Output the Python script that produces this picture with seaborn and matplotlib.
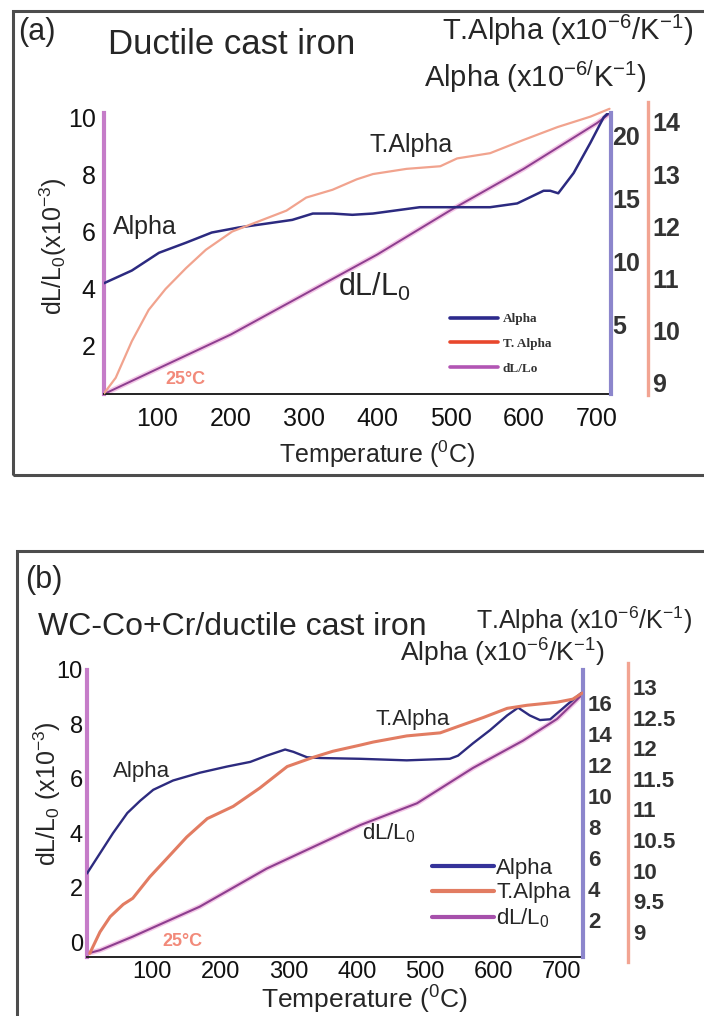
import matplotlib
matplotlib.use('Agg')
import matplotlib.pyplot as plt
import matplotlib.patheffects as pe
from matplotlib.lines import Line2D
from matplotlib.patches import Rectangle
import seaborn as sns

# ---------------- panel (a): ductile cast iron ----------------
a_alpha_temp = [27, 65, 102, 139, 174, 211, 248, 284, 312, 339, 366, 394, 458, 503,
                554, 591, 627, 636, 647, 668, 691, 709, 718]
a_alpha = [8.3, 9.3, 10.7, 11.5, 12.3, 12.7, 13.0, 13.3, 13.8, 13.8, 13.7, 13.8, 14.3, 14.3,
           14.3, 14.6, 15.6, 15.6, 15.4, 17.0, 19.4, 21.4, 21.9]
a_talpha_temp = [27, 43, 65, 88, 111, 139, 166, 202, 239, 276, 303, 339, 372, 394, 440,
                 486, 509, 554, 599, 646, 691, 717]
a_talpha = [8.8, 9.1, 9.8, 10.4, 10.8, 11.2, 11.55, 11.9, 12.1, 12.3, 12.55, 12.7, 12.9, 13.0,
            13.1, 13.15, 13.3, 13.4, 13.65, 13.9, 14.1, 14.25]
a_dl_temp = [27, 100, 200, 300, 400, 500, 600, 700, 718]
a_dl = [0.32, 1.2, 2.4, 3.8, 5.2, 6.75, 8.2, 9.8, 10.15]

a_left_ticks = [2, 4, 6, 8, 10]
a_alpha_ticks = [5, 10, 15, 20]
a_talpha_ticks = [9, 10, 11, 12, 13, 14]

# ---------------- panel (b): WC-Co+Cr/ductile cast iron ----------------
b_alpha_temp = [5, 24, 43, 64, 83, 102, 131, 170, 210, 244, 268, 295, 307, 327, 346, 405,
                473, 536, 548, 570, 595, 620, 636, 653, 668, 683, 708, 730]
b_alpha = [5.0, 6.3, 7.6, 8.9, 9.7, 10.4, 11.0, 11.5, 11.9, 12.2, 12.6, 13.0, 12.85, 12.5,
           12.45, 12.4, 12.3, 12.4, 12.6, 13.4, 14.25, 15.2, 15.7, 15.2, 14.9, 14.95, 15.9, 16.7]
b_talpha_temp = [9, 24, 39, 58, 72, 97, 122, 151, 181, 219, 258, 298, 336, 365, 405, 424,
                 473, 522, 547, 585, 620, 649, 693, 716, 730]
b_talpha = [8.65, 9.0, 9.25, 9.45, 9.55, 9.9, 10.2, 10.55, 10.85, 11.05, 11.35, 11.7, 11.85,
            11.95, 12.05, 12.1, 12.2, 12.25, 12.35, 12.5, 12.65, 12.7, 12.75, 12.8, 12.9]
b_dl_temp = [9, 24, 72, 170, 268, 405, 488, 570, 643, 693, 730]
b_dl = [-0.4, -0.3, 0.2, 1.3, 2.7, 4.3, 5.1, 6.4, 7.4, 8.2, 9.1]

b_left_ticks = [0, 2, 4, 6, 8, 10]
b_alpha_ticks = [2, 4, 6, 8, 10, 12, 14, 16]
b_talpha_ticks = [9, 9.5, 10, 10.5, 11, 11.5, 12, 12.5, 13]
b_talpha_labels = ['9', '9.5', '10', '10.5', '11', '11.5', '12', '12.5', '13']

temp_ticks = [100, 200, 300, 400, 500, 600, 700]

sns.set_style('white')
plt.rcParams['font.family'] = ['Liberation Sans', 'DejaVu Sans']
plt.rcParams['mathtext.default'] = 'regular'

W, H = 704, 1016
PT = 0.72  # pixels -> points at 100 dpi
fig = plt.figure(figsize=(W / 100, H / 100), dpi=100)


def box(l, t, r, b):
    return [l / W, 1 - b / H, (r - l) / W, (b - t) / H]


def fx(px):
    return px / W


def fy(py):
    return 1 - py / H


def put(x, y, s, size, ha='left', **kw):
    fig.text(fx(x), fy(y), s, fontsize=size, ha=ha, va='center', **kw)


def make_axes(l, t, r, b, t_top, t_bot, gap, xlim, ylims, fs_left, pads):
    ax = fig.add_axes(box(l, t, r, b))
    ax_a = ax.twinx()
    ax_t = fig.add_axes(box(l, t_top, r, t_bot), sharex=ax)
    for a in (ax, ax_a, ax_t):
        a.set_facecolor('none')
        for s in a.spines.values():
            s.set_visible(False)
    ax.spines['left'].set_visible(True)
    ax.spines['left'].set_color('#c57cc8')
    ax.spines['left'].set_linewidth(3.0)
    ax.spines['bottom'].set_visible(True)
    ax.spines['bottom'].set_color('#222222')
    ax.spines['bottom'].set_linewidth(1.4)
    ax_a.spines['right'].set_visible(True)
    ax_a.spines['right'].set_color('#8c86cc')
    ax_a.spines['right'].set_linewidth(3.0)
    ax_t.spines['right'].set_visible(True)
    ax_t.spines['right'].set_color('#f2a492')
    ax_t.spines['right'].set_linewidth(2.4)
    ax_t.spines['right'].set_position(('outward', gap * PT))
    ax_t.yaxis.tick_right()
    ax_t.tick_params(bottom=False, labelbottom=False)
    ax.set_xlim(*xlim)
    ax.set_ylim(*ylims[0])
    ax_a.set_ylim(*ylims[1])
    ax_t.set_ylim(*ylims[2])
    ax.tick_params(axis='x', length=0, pad=pads[0], labelsize=fs_left, labelcolor='#111111')
    ax.tick_params(axis='y', length=0, pad=pads[1], labelsize=fs_left, labelcolor='#111111')
    ax_a.tick_params(axis='y', length=0, pad=pads[2])
    ax_t.tick_params(axis='y', length=0, pad=pads[3])
    return ax, ax_a, ax_t


halo = [pe.Stroke(linewidth=3.6, foreground='#f3c6e6'), pe.Normal()]

# ---------------- draw panel (a) ----------------
ax, ax_a, ax_t = make_axes(104, 113, 611, 394, 102, 395, 37, (27, 719),
                           [(0.32, 10.15), (-0.45, 21.74), (8.77, 14.38)],
                           18, (9, 6, 1, 3))
ax.set_xticks(temp_ticks)
ax.set_yticks(a_left_ticks)
ax_a.set_yticks(a_alpha_ticks, labels=[str(v) for v in a_alpha_ticks],
                fontsize=18, fontweight='bold', color='#333333')
ax_t.set_yticks(a_talpha_ticks, labels=[str(v) for v in a_talpha_ticks],
                fontsize=18, fontweight='bold', color='#333333')
sns.lineplot(x=a_dl_temp, y=a_dl, ax=ax, color='#8d3e8f', lw=1.4, path_effects=halo)
sns.lineplot(x=a_alpha_temp, y=a_alpha, ax=ax_a, color='#2c2a80', lw=1.8)
sns.lineplot(x=a_talpha_temp, y=a_talpha, ax=ax_t, color='#f1a38e', lw=1.6)
for a in (ax, ax_a, ax_t):
    a.set_xlabel('')
    a.set_ylabel('')

put(53, 246, r'dL/L$_0$(x10$^{-3}$)', 18, ha='center', rotation=90)
put(377, 454, r'Temperature ($^{0}$C)', 18, ha='center')
put(18, 32, '(a)', 22)
put(108, 45, 'Ductile cast iron', 25)
put(442, 30, r'T.Alpha (x10$^{-6}$/K$^{-1}$)', 21)
put(424, 77, r'Alpha (x10$^{-6/}$K$^{-1}$)', 21)
put(113, 227, 'Alpha', 18)
put(370, 145, 'T.Alpha', 18)
put(338, 287, r'dL/L$_0$', 22)
put(165, 380, '25°C', 13, fontweight='bold', color='#f28a7a')

leg_a = [Line2D([], [], color='#2c2a8c', lw=2.6),
         Line2D([], [], color='#e8472c', lw=2.6),
         Line2D([], [], color='#b255b4', lw=2.6)]
fig.legend(leg_a, ['Alpha', 'T. Alpha', 'dL/Lo'], loc='upper left',
           bbox_to_anchor=(fx(450), fy(313)), frameon=False, borderpad=0, borderaxespad=0,
           handlelength=3.6, handletextpad=0.4, labelspacing=0.95,
           prop={'family': 'Liberation Serif', 'weight': 'bold', 'size': 9.5},
           labelcolor='#333333')

# ---------------- draw panel (b) ----------------
bx, bx_a, bx_t = make_axes(87, 670, 583, 957, 663, 962, 45, (5, 731),
                           [(-0.55, 9.94), (-0.39, 18.13), (8.51, 13.39)],
                           17, (3, 3, 3.5, 3.5))
bx.set_xticks(temp_ticks)
bx.set_yticks(b_left_ticks)
bx_a.set_yticks(b_alpha_ticks, labels=[str(v) for v in b_alpha_ticks],
                fontsize=16, fontweight='bold', color='#333333')
bx_t.set_yticks(b_talpha_ticks, labels=b_talpha_labels,
                fontsize=16, fontweight='bold', color='#333333')
sns.lineplot(x=b_dl_temp, y=b_dl, ax=bx, color='#8d3e8f', lw=1.5, path_effects=halo)
sns.lineplot(x=b_alpha_temp, y=b_alpha, ax=bx_a, color='#2d2b7f', lw=1.7)
sns.lineplot(x=b_talpha_temp, y=b_talpha, ax=bx_t, color='#e27c62', lw=2.2)
for a in (bx, bx_a, bx_t):
    a.set_xlabel('')
    a.set_ylabel('')

put(47, 794, r'dL/L$_0$ (x10$^{-3}$)', 18, ha='center', rotation=90)
put(364, 1000, r'Temperature ($^{0}$C)', 19, ha='center')
put(25, 580, '(b)', 22)
put(38, 627, 'WC-Co+Cr/ductile cast iron', 23)
put(476, 620, r'T.Alpha (x10$^{-6}$/K$^{-1}$)', 18)
put(400, 653, r'Alpha (x10$^{-6}$/K$^{-1}$)', 19)
put(113, 772, 'Alpha', 16)
put(375, 720, 'T.Alpha', 16)
put(362, 833, r'dL/L$_0$', 16)
put(162, 942, '25°C', 13, fontweight='bold', color='#f28a7a')

leg_b = [Line2D([], [], color='#35339a', lw=3),
         Line2D([], [], color='#e27c62', lw=3),
         Line2D([], [], color='#a650ab', lw=3)]
fig.legend(leg_b, ['Alpha', 'T.Alpha', r'dL/L$_0$'], loc='upper left',
           bbox_to_anchor=(fx(432), fy(858)), frameon=False, borderpad=0, borderaxespad=0,
           handlelength=2.8, handletextpad=0.1, labelspacing=0.15, fontsize=16)

# panel frames
fig.add_artist(Rectangle((fx(13), fy(475)), fx(740) - fx(13), fy(11) - fy(475),
                         transform=fig.transFigure, fill=False, ec='#4d4d4d', lw=2.2))
fig.add_artist(Rectangle((fx(17), fy(1040)), fx(740) - fx(17), fy(551) - fy(1040),
                         transform=fig.transFigure, fill=False, ec='#4d4d4d', lw=2.2))

fig.savefig('out.png', dpi=100)
